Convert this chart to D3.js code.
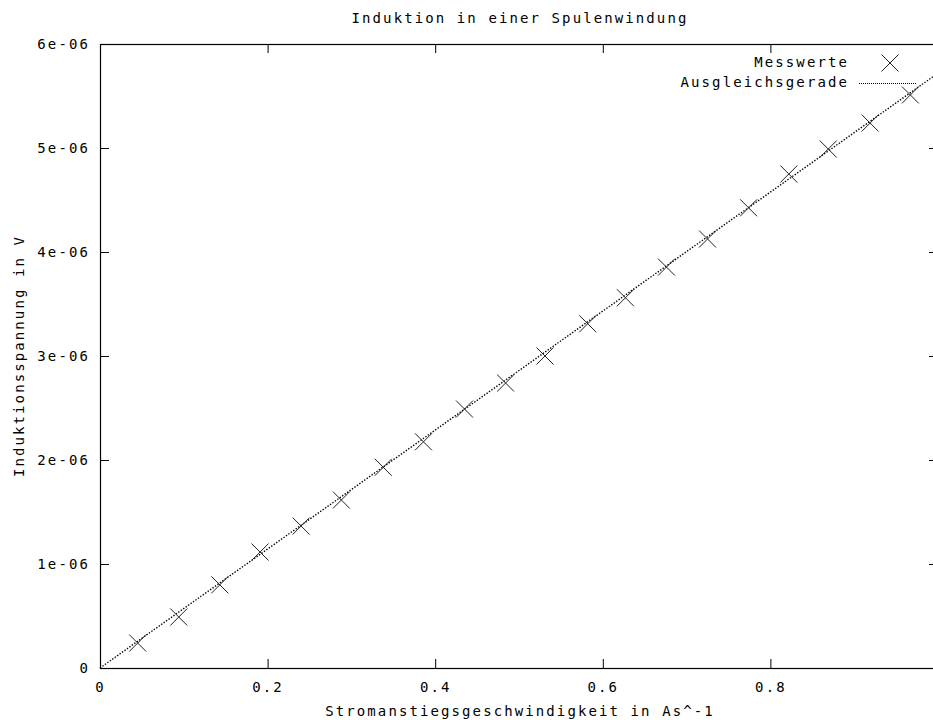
<!DOCTYPE html>
<html>
<head>
  <meta charset="utf-8">
  <title>Induktion in einer Spulenwindung</title>
  <style>
    body { margin: 0; background: #fff; }
    svg { display: block; }
    text { font-family: 'DejaVu Sans Mono', monospace; font-size: 14px; letter-spacing: 2.1px; fill: #000; }
    .tick line { stroke: #000; }
  </style>
</head>
<body>
  <div class="chart"></div>
  <script src="https://cdn.jsdelivr.net/npm/d3@7"></script>
  <script>
    var stromanstieg = [0.045, 0.094, 0.143, 0.191, 0.240, 0.288, 0.338, 0.386, 0.435, 0.484,
                        0.531, 0.582, 0.627, 0.676, 0.725, 0.774, 0.822, 0.869, 0.919, 0.967];
    var spannung = [0.24e-6, 0.49e-6, 0.80e-6, 1.115e-6, 1.365e-6, 1.615e-6, 1.93e-6, 2.175e-6, 2.49e-6, 2.74e-6,
                    3.0e-6, 3.31e-6, 3.56e-6, 3.855e-6, 4.125e-6, 4.425e-6, 4.75e-6, 4.99e-6, 5.24e-6, 5.51e-6];
    // fit f(x) = a*x
    var fitSlope = 5.72e-6;

    var xTicks = [0, 0.2, 0.4, 0.6, 0.8];
    var xTickLabels = ['0', '0.2', '0.4', '0.6', '0.8'];
    var yTicks = [0, 1e-6, 2e-6, 3e-6, 4e-6, 5e-6, 6e-6];
    var yTickLabels = ['0', '1e-06', '2e-06', '3e-06', '4e-06', '5e-06', '6e-06'];

    var W = 933, H = 720;
    var margin = { top: 44, right: -5, bottom: 52, left: 100 };
    var width = W - margin.left - margin.right;
    var height = H - margin.top - margin.bottom;
    var tickLen = 9;

    var data = stromanstieg.map(function (d, i) { return { x: d, y: spannung[i] }; });

    var x = d3.scaleLinear().domain([0, 1]).range([0, width]);
    var y = d3.scaleLinear().domain([0, 6e-6]).range([height, 0]);

    var svg = d3.select('.chart').append('svg')
      .attr('width', W)
      .attr('height', H);

    svg.append('text')
      .attr('x', margin.left + width / 2 + 1)
      .attr('y', 23)
      .attr('text-anchor', 'middle')
      .text('Induktion in einer Spulenwindung');

    var g = svg.append('g')
      .attr('transform', 'translate(' + margin.left + ',' + margin.top + ')');

    // axes, ticks pointing inwards like gnuplot
    var xAxis = d3.axisBottom(x).tickValues(xTicks)
      .tickFormat(function (d, i) { return xTickLabels[i]; })
      .tickSize(-tickLen).tickPadding(14);
    var yAxis = d3.axisLeft(y).tickValues(yTicks)
      .tickFormat(function (d, i) { return yTickLabels[i]; })
      .tickSize(-tickLen).tickPadding(10);

    g.append('g').attr('class', 'axis')
      .attr('transform', 'translate(0,' + height + ')')
      .call(xAxis);
    g.append('g').attr('class', 'axis')
      .call(yAxis);
    g.append('g').attr('class', 'axis')
      .call(d3.axisTop(x).tickValues(xTicks).tickFormat('').tickSize(-tickLen));
    g.append('g').attr('class', 'axis')
      .attr('transform', 'translate(' + width + ',0)')
      .call(d3.axisRight(y).tickValues(yTicks).tickFormat('').tickSize(-tickLen));

    g.selectAll('.axis .domain').remove();
    g.selectAll('.axis').attr('font-family', null).attr('font-size', null);
    g.selectAll('.axis .tick text').attr('fill', '#000');

    g.append('rect')
      .attr('x', 0.5).attr('y', 0.5)
      .attr('width', width).attr('height', height)
      .attr('fill', 'none')
      .attr('stroke', '#000')
      .attr('stroke-width', 1.2);

    // axis titles
    svg.append('text')
      .attr('x', margin.left + width / 2 + 1)
      .attr('y', 716)
      .attr('text-anchor', 'middle')
      .text('Stromanstiegsgeschwindigkeit in As^-1');

    svg.append('text')
      .attr('transform', 'translate(24,' + (margin.top + height / 2) + ') rotate(-90)')
      .attr('text-anchor', 'middle')
      .text('Induktionsspannung in V');

    // fitted line
    var line = d3.line()
      .x(function (d) { return x(d); })
      .y(function (d) { return y(fitSlope * d); });

    g.append('path')
      .datum([0, 1])
      .attr('d', line)
      .attr('fill', 'none')
      .attr('stroke', '#000')
      .attr('stroke-width', 1.4)
      .attr('stroke-dasharray', '1.4,1.6');

    // measured points as crosses
    var s = 8.5;
    function cross(sel) {
      sel.append('path')
        .attr('d', 'M' + (-s) + ',' + (-s) + 'L' + s + ',' + s + 'M' + (-s) + ',' + s + 'L' + s + ',' + (-s))
        .attr('fill', 'none')
        .attr('stroke', '#222')
        .attr('stroke-width', 1);
    }

    g.selectAll('.pt').data(data).enter().append('g')
      .attr('class', 'pt')
      .attr('transform', function (d) { return 'translate(' + x(d.x) + ',' + y(d.y) + ')'; })
      .call(cross);

    // legend
    var key = svg.append('g').attr('class', 'key');
    key.append('text')
      .attr('x', 849).attr('y', 67)
      .attr('text-anchor', 'end')
      .text('Messwerte');
    key.append('g')
      .attr('transform', 'translate(890,63)')
      .call(cross);
    key.append('text')
      .attr('x', 849).attr('y', 87)
      .attr('text-anchor', 'end')
      .text('Ausgleichsgerade');
    key.append('line')
      .attr('x1', 859).attr('x2', 916)
      .attr('y1', 83.5).attr('y2', 83.5)
      .attr('stroke', '#000')
      .attr('stroke-dasharray', '1,1');
  </script>
</body>
</html>
